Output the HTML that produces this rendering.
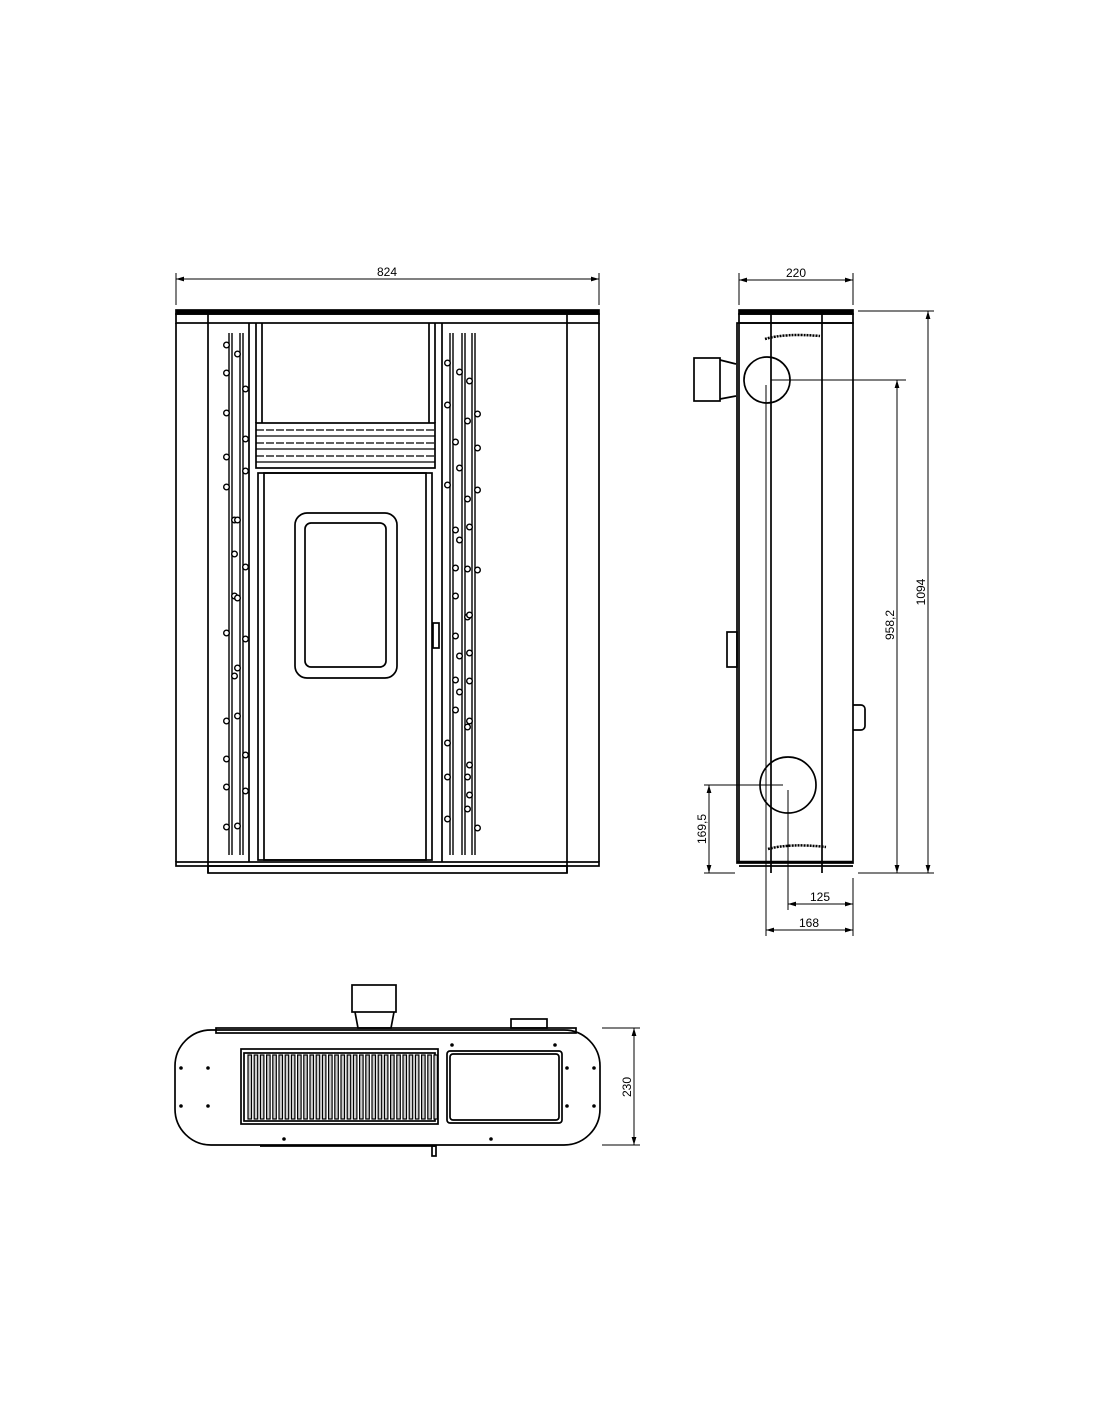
<!DOCTYPE html>
<html><head><meta charset="utf-8"><style>
html,body{margin:0;padding:0;background:#fff}
svg{display:block}
text{font-family:"Liberation Sans",Arial,sans-serif;font-size:12px;fill:#000}
</style></head><body>
<svg id="s" width="1100" height="1422" viewBox="0 0 1100 1422" xmlns="http://www.w3.org/2000/svg">
<defs><marker id="a" viewBox="0 0 10 6" refX="10" refY="3" markerWidth="8" markerHeight="5" orient="auto-start-reverse"><path d="M0,0L10,3L0,6z" fill="#000"/></marker></defs>
<g fill="none" stroke="#000" stroke-width="1.7">
<!-- FRONT VIEW -->
<line x1="176" y1="273" x2="176" y2="305" stroke-width="1"/>
<line x1="599" y1="273" x2="599" y2="305" stroke-width="1"/>
<line x1="176" y1="279" x2="599" y2="279" stroke-width="1" marker-start="url(#a)" marker-end="url(#a)"/>
<rect x="176" y="310" width="423" height="4" fill="#000"/>
<rect x="176" y="314" width="423" height="9"/>
<line x1="176" y1="323" x2="176" y2="862"/>
<line x1="599" y1="323" x2="599" y2="862"/>
<line x1="208" y1="314" x2="208" y2="873"/>
<line x1="567" y1="314" x2="567" y2="873"/>
<line x1="249" y1="323" x2="249" y2="862"/>
<line x1="442" y1="323" x2="442" y2="862"/>
<line x1="256" y1="323" x2="256" y2="423"/>
<line x1="262" y1="323" x2="262" y2="423"/>
<line x1="435" y1="323" x2="435" y2="423"/>
<line x1="429" y1="323" x2="429" y2="423"/>
<rect x="256" y="423" width="179" height="45"/>
<g stroke-width="1.3">
<line x1="256" y1="430" x2="435" y2="430" stroke-dasharray="8 2"/>
<line x1="256" y1="436" x2="435" y2="436"/>
<line x1="256" y1="443" x2="435" y2="443" stroke-dasharray="8 2"/>
<line x1="256" y1="449" x2="435" y2="449"/>
<line x1="256" y1="456" x2="435" y2="456" stroke-dasharray="8 2"/>
<line x1="256" y1="462" x2="435" y2="462"/>
</g>
<rect x="258" y="473" width="174" height="387"/>
<rect x="264" y="473" width="162" height="387"/>
<rect x="295" y="513" width="102" height="165" rx="12"/>
<rect x="305" y="523" width="81" height="144" rx="6"/>
<rect x="433" y="623" width="6" height="25"/>
<rect x="176" y="862" width="423" height="4"/>
<rect x="208" y="866" width="359" height="7"/>
<g id="vines"></g>
<!-- SIDE VIEW -->
<line x1="739" y1="273" x2="739" y2="305" stroke-width="1"/>
<line x1="853" y1="273" x2="853" y2="305" stroke-width="1"/>
<line x1="739" y1="280" x2="853" y2="280" stroke-width="1" marker-start="url(#a)" marker-end="url(#a)"/>
<rect x="739" y="310" width="114" height="4" fill="#000"/>
<rect x="739" y="314" width="114" height="9"/>
<rect x="737" y="323" width="116" height="540"/>
<line x1="739" y1="323" x2="739" y2="863"/>
<line x1="771" y1="314" x2="771" y2="873"/>
<line x1="822" y1="314" x2="822" y2="873"/>
<line x1="737" y1="862" x2="853" y2="862" stroke-width="2.4"/>
<line x1="739" y1="866" x2="853" y2="866"/>
<circle cx="767" cy="380" r="23"/>
<rect x="694" y="358" width="26" height="43"/>
<path d="M720,360L736,364M720,399L736,396"/>
<circle cx="788" cy="785" r="28"/>
<path d="M853,705h8a4,4 0 0 1 4,4v17a4,4 0 0 1-4,4h-8"/>
<rect x="727" y="632" width="10" height="35"/>
<path d="M765,339q20,-6 55,-3M768,849q22,-6 58,-2" stroke-width="2.5" stroke-dasharray="2 1"/>
<g stroke-width="1">
<line x1="771" y1="380" x2="906" y2="380"/>
<line x1="766" y1="385" x2="766" y2="936"/>
<line x1="858" y1="311" x2="934" y2="311"/>
<line x1="858" y1="873" x2="934" y2="873"/>
<line x1="704" y1="785" x2="783" y2="785"/>
<line x1="704" y1="873" x2="735" y2="873"/>
<line x1="788" y1="790" x2="788" y2="910"/>
<line x1="853" y1="878" x2="853" y2="936"/>
<line x1="928" y1="311" x2="928" y2="873" marker-start="url(#a)" marker-end="url(#a)"/>
<line x1="897" y1="380" x2="897" y2="873" marker-start="url(#a)" marker-end="url(#a)"/>
<line x1="709" y1="785" x2="709" y2="873" marker-start="url(#a)" marker-end="url(#a)"/>
<line x1="788" y1="904" x2="853" y2="904" marker-start="url(#a)" marker-end="url(#a)"/>
<line x1="766" y1="930" x2="853" y2="930" marker-start="url(#a)" marker-end="url(#a)"/>
</g>
<!-- TOP VIEW -->
<rect x="175" y="1030" width="425" height="115" rx="36"/>
<rect x="216" y="1028" width="360" height="5"/>
<rect x="352" y="985" width="44" height="27"/>
<path d="M355,1012L358,1028H391L394,1012"/>
<rect x="511" y="1019" width="36" height="9"/>
<rect x="241" y="1049" width="197" height="75"/>
<rect x="244" y="1053" width="191" height="68"/>
<g id="grate" stroke-width="1.2"></g>
<rect x="447" y="1051" width="115" height="72" rx="3"/>
<rect x="450" y="1054" width="109" height="66" rx="3"/>
<line x1="260" y1="1146" x2="435" y2="1146"/>
<rect x="432" y="1146" width="4" height="10"/>
<line x1="602" y1="1028" x2="640" y2="1028" stroke-width="1"/>
<line x1="602" y1="1145" x2="640" y2="1145" stroke-width="1"/>
<line x1="634" y1="1028" x2="634" y2="1145" stroke-width="1" marker-start="url(#a)" marker-end="url(#a)"/>
</g>
<g fill="#000">
<circle cx="181" cy="1068" r="1.8"/><circle cx="181" cy="1106" r="1.8"/><circle cx="208" cy="1068" r="1.8"/><circle cx="208" cy="1106" r="1.8"/>
<circle cx="567" cy="1068" r="1.8"/><circle cx="567" cy="1106" r="1.8"/><circle cx="594" cy="1068" r="1.8"/><circle cx="594" cy="1106" r="1.8"/>
<circle cx="452" cy="1045" r="1.8"/><circle cx="555" cy="1045" r="1.8"/><circle cx="284" cy="1139" r="1.8"/><circle cx="491" cy="1139" r="1.8"/>
</g>
<text x="387" y="276" text-anchor="middle">824</text>
<text x="796" y="277" text-anchor="middle">220</text>
<text x="820" y="901" text-anchor="middle">125</text>
<text x="809" y="927" text-anchor="middle">168</text>
<text transform="translate(925,592) rotate(-90)" text-anchor="middle">1094</text>
<text transform="translate(894,625) rotate(-90)" text-anchor="middle">958,2</text>
<text transform="translate(706,829) rotate(-90)" text-anchor="middle">169,5</text>
<text transform="translate(631,1087) rotate(-90)" text-anchor="middle">230</text>
</svg>
<script>
var NS="http://www.w3.org/2000/svg";
function el(p,t,a){var e=document.createElementNS(NS,t);for(var k in a)e.setAttribute(k,a[k]);p.appendChild(e);return e;}
var v=document.getElementById("vines");
var xs=[229,240,450,462,472];
xs.forEach(function(x,i){
  el(v,"line",{x1:x,y1:333,x2:x,y2:855,"stroke-width":1.4});
  el(v,"line",{x1:x+3,y1:333,x2:x+3,y2:855,"stroke-width":1.4});
  for(var y=345+i*9;y<850;y+=28+((y*7+i*13)%23)){
    var side=((y+i)%2)?-1:1;
    el(v,"circle",{cx:x+1.5+side*4,cy:y,r:2.8,fill:"#fff","stroke-width":1.4});
  }
});
var g=document.getElementById("grate");
for(var x=248;x<434;x+=6.2){el(g,"rect",{x:x,y:1055,width:3.5,height:64,fill:"#ccc"});}
</script>
</body></html>
